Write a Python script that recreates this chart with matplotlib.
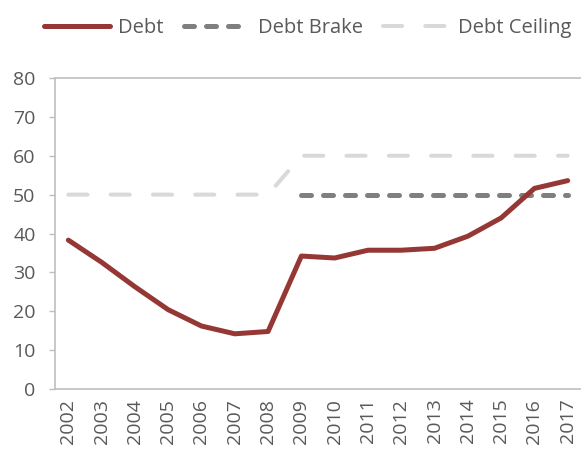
import matplotlib.pyplot as plt

plt.rcParams["font.family"] = ["Open Sans", "DejaVu Sans"]

YEARS = [str(y) for y in range(2002, 2018)]
DEBT = [38.3, 32.6, 26.3, 20.4, 16.2, 14.2, 14.8, 34.2, 33.7, 35.7, 35.7, 36.2, 39.3, 44.0, 51.6, 53.6]
DEBT_BRAKE = [None] * 7 + [50] * 9
DEBT_CEILING = [50] * 7 + [60] * 9

TEXT_COLOR = "#595959"
AXIS_COLOR = "#bfbfbf"


def main():
    fig = plt.figure(figsize=(5.81, 4.49), dpi=100)
    ax = fig.add_axes([0.0947, 0.1336, 0.9053, 0.6927])

    x = list(range(len(YEARS)))
    brake = [float("nan") if v is None else v for v in DEBT_BRAKE]

    ax.plot(x, DEBT, color="#953735", lw=3.6, solid_capstyle="round",
            solid_joinstyle="round", label="Debt", zorder=3)
    ax.plot(x, brake, color="#7f7f7f", lw=3.6, dashes=(2.0, 2.4),
            dash_capstyle="round", label="Debt Brake", zorder=2)
    ax.plot(x, DEBT_CEILING, color="#d9d9d9", lw=2.9, dashes=(4.75, 5.75),
            dash_capstyle="round", label="Debt Ceiling", zorder=1)

    ax.set_xlim(-0.4, 15.4)
    ax.set_ylim(0, 80)
    ax.set_yticks(range(0, 81, 10))
    ax.set_xticks(x)
    ax.set_xticklabels(YEARS, rotation=90)

    ax.spines["right"].set_visible(False)
    for side in ["left", "bottom", "top"]:
        ax.spines[side].set_color(AXIS_COLOR)
        ax.spines[side].set_linewidth(1.2)

    ax.tick_params(axis="y", colors=AXIS_COLOR, labelcolor=TEXT_COLOR,
                   labelsize=14, length=4, width=1, pad=10)
    ax.tick_params(axis="x", length=0, labelcolor=TEXT_COLOR,
                   labelsize=14, pad=7)

    fig.legend(loc="center", bbox_to_anchor=(0.529, 0.938), ncol=3,
               frameon=False, fontsize=14.5, handlelength=3.3,
               handletextpad=0.4, columnspacing=1.0, labelcolor=TEXT_COLOR)

    fig.savefig("out.png", dpi=100)
    plt.close(fig)


if __name__ == "__main__":
    main()
